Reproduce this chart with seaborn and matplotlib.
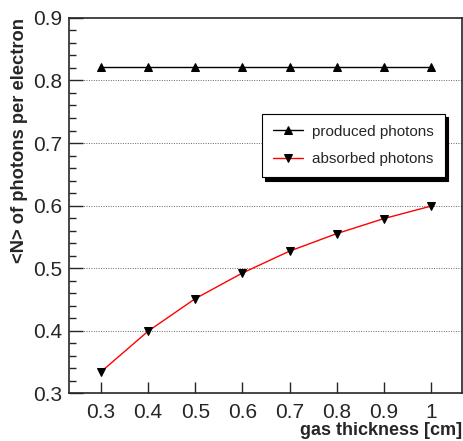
#! /usr/bin/env python
'''
Mean number of photons per electron vs. gas thickness
'''
# imports
import matplotlib
matplotlib.use('Agg')
import matplotlib.pyplot as plt
from matplotlib.ticker import MultipleLocator
import pandas as pd
import seaborn as sns

# settings
sns.set_style("ticks")
plt.rcParams['font.family'] = ['Liberation Sans', 'DejaVu Sans']

# data
thickness = [0.3, 0.4, 0.5, 0.6, 0.7, 0.8, 0.9, 1.0]
produced = [0.821, 0.821, 0.821, 0.821, 0.821, 0.821, 0.821, 0.821]
absorbed = [0.334, 0.399, 0.451, 0.492, 0.527, 0.555, 0.579, 0.599]
df = pd.DataFrame({'thickness': thickness, 'produced': produced, 'absorbed': absorbed})

fig = plt.figure(figsize=(4.64, 4.41), dpi=100)
ax = fig.add_axes([0.1487, 0.1088, 0.8470, 0.8504])

# horizontal dotted grid
for yv in [0.4, 0.5, 0.6, 0.7, 0.8]:
    ax.axhline(yv, color='#666666', linestyle=(0, (1, 1.5)), linewidth=0.7, zorder=0)

sns.lineplot(x='thickness', y='produced', data=df, ax=ax, color='black', linewidth=1.0,
             marker='^', markersize=6, markeredgecolor='black', markerfacecolor='black',
             label='produced photons')
sns.lineplot(x='thickness', y='absorbed', data=df, ax=ax, color='red', linewidth=1.0,
             marker='v', markersize=6, markeredgecolor='black', markerfacecolor='black',
             label='absorbed photons')

ax.set_xlim(0.232, 1.066)
ax.set_ylim(0.3, 0.9)
ax.yaxis.set_major_locator(MultipleLocator(0.1))
ax.yaxis.set_minor_locator(MultipleLocator(0.02))
ax.set_xticks(thickness)
ax.set_xticklabels(['0.3', '0.4', '0.5', '0.6', '0.7', '0.8', '0.9', '1'])
ax.tick_params(axis='x', which='major', direction='in', length=8, width=1, labelsize=15, pad=7)
ax.tick_params(axis='y', which='major', direction='in', length=10, width=1, labelsize=15, pad=5)
ax.tick_params(axis='y', which='minor', direction='in', length=5, width=1)
for s in ax.spines.values():
    s.set_linewidth(1.2)

ax.set_xlabel('gas thickness [cm]', fontsize=13, fontweight='bold', ha='right', va='center')
ax.xaxis.set_label_coords(1.0, -0.099)
ax.set_ylabel('<N> of photons per electron', fontsize=13.2, fontweight='bold', ha='right', va='center')
ax.yaxis.set_label_coords(-0.127, 1.0)

legend = ax.legend(loc='upper left', bbox_to_anchor=(0.491, 0.744), fontsize=11, frameon=True,
                   fancybox=False, edgecolor='black', framealpha=1, handlelength=2.0,
                   handletextpad=0.6, borderpad=0.7, labelspacing=0.9, borderaxespad=0,
                   shadow={'color': 'black', 'alpha': 1, 'ox': 2.5, 'oy': -2.5})
legend.get_frame().set_linewidth(0.8)

fig.savefig('out.png', dpi=100)
plt.close()
